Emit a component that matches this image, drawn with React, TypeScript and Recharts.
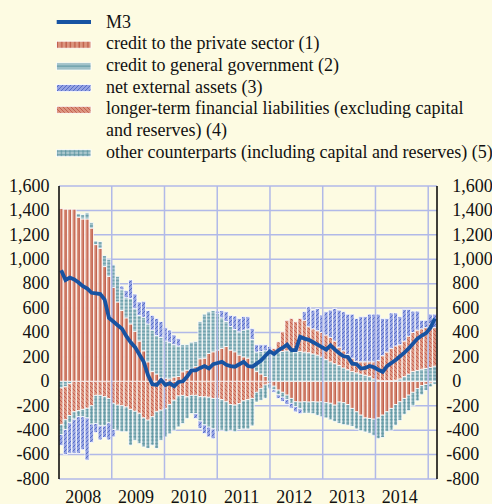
import React from 'react';
import { ComposedChart, Bar, Line, XAxis, YAxis, CartesianGrid, ReferenceLine } from 'recharts';

// ---------- data (annual flows, EUR billions) ----------
const years = ['2008', '2009', '2010', '2011', '2012', '2013', '2014', '2015'];
const monthsInYear = [12, 12, 12, 12, 12, 12, 12, 3];
const months: string[] = [];
years.forEach((y, k) => {
  for (let m = 1; m <= monthsInYear[k]; m++) months.push(`${y}-${String(m).padStart(2, '0')}`);
});

const m3 = [
  910, 830, 850, 835, 810, 780, 760, 725, 720, 715, 670, 520,
  490, 460, 430, 370, 320, 280, 220, 160, 50, -25, -30, 10,
  -30, -15, -40, -5, 0, 40, 90, 90, 110, 125, 105, 140,
  150, 160, 135, 125, 120, 140, 160, 125, 120, 145, 170, 210,
  245, 225, 255, 275, 300, 255, 255, 365, 350, 340, 320, 300,
  280, 260, 295, 260, 230, 205, 200, 145, 140, 105, 110, 125,
  115, 95, 78, 125, 150, 175, 205, 235, 270, 310, 350, 375,
  395, 440, 515,
];
const privateCredit = [
  1415, 1410, 1410, 1410, 1345, 1330, 1330, 1255, 1120, 1090, 940, 860,
  770, 650, 580, 520, 470, 410, 330, 250, 160, 80, 60, 30,
  25, 20, 35, 40, 78, 92, 105, 120, 185, 190, 228, 242,
  256, 270, 285, 256, 242, 215, 200, 190, 130, 80, 60, 40,
  -20, -40, -72, -90, -113, -140, -168, -170, -168, -170, -168, -170,
  -168, -175, -180, -195, -170, -175, -190, -222, -250, -277, -300, -304,
  -310, -300, -277, -250, -222, -190, -168, -140, -113, -90, -60, -35,
  -25, -15, -5,
];
const governmentCredit = [
  -55, -45, -20, 0, 30, 35, 50, 45, 30, 55, 90, 140,
  185, 210, 170, 165, 210, 185, 210, 275, 310, 340, 315, 330,
  305, 300, 265, 250, 222, 208, 215, 205, 305, 360, 342, 338,
  299, 250, 205, 194, 183, 190, 220, 239, 213, 160, 185, 210,
  230, 235, 240, 245, 250, 245, 240, 245, 240, 235, 225, 215,
  200, 180, 160, 145, 130, 110, 95, 80, 70, 60, 50, 40,
  20, 10, 5, 5, 5, 10, 20, 40, 60, 80, 90, 100,
  105, 115, 125,
];
const longerTermLiabilities = [
  -300, -270, -260, -250, -240, -230, -220, -200, -115, -115, -125, -140,
  -180, -195, -200, -210, -230, -245, -262, -300, -318, -290, -250, -236,
  -225, -190, -155, -120, -115, -127, -115, -115, -125, -127, -130, -140,
  -140, -150, -168, -190, -195, -182, -160, -150, -140, -90, -60, -30,
  15, 35, 84, 161, 250, 271, 248, 271, 260, 212, 205, 200,
  200, 200, 200, 185, 150, 140, 125, 110, 95, 100, 110, 120,
  140, 160, 205, 235, 265, 280, 280, 290, 310, 320, 330, 330,
  335, 355, 315,
];
const otherCounterparts = [
  -80, -80, -60, -60, -50, -60, -80, -150, -230, -250, -240, -200,
  -215, -205, -213, -203, -293, -238, -248, -237, -232, -233, -300, -247,
  -230, -240, -245, -253, -231, -178, -149, -150, -200, -230, -245, -250,
  -273, -250, -245, -210, -218, -213, -230, -240, -225, -80, -95, -110,
  -40, -30, -38, -40, -37, -40, -40, -55, -92, -90, -97, -110,
  -122, -125, -135, -135, -175, -180, -170, -148, -140, -128, -115, -121,
  -135, -170, -183, -160, -178, -170, -152, -130, -127, -110, -100, -75,
  -50, -30, -20,
];
const netExternalAssets = [
  -90, -205, -250, -280, -300, -270, -345, -150, -75, -115, -95, -140,
  -60, 0, 30, 60, 150, 120, 110, 130, 110, 120, 140, 130,
  110, 100, 80, 60, 0, 0, 0, -40, -61, -71, -80, -80,
  20, 60, 80, 90, 110, 110, 110, 100, 90, 60, 55, 50,
  40, -20, -30, -35, -40, -40, -42, -40, 70, 164, 153, 182,
  143, 190, 223, 267, 303, 320, 330, 360, 350, 370, 370, 390,
  390, 380, 305, 275, 290, 270, 230, 260, 220, 175, 155, 70,
  60, 80, 110,
];

const yTicks = [-800, -600, -400, -200, 0, 200, 400, 600, 800, 1000, 1200, 1400, 1600];
const yearLabels = ['2008', '2009', '2010', '2011', '2012', '2013', '2014'];
const yearStarts = [0, 12, 24, 36, 48, 60, 72, 84, 87];

const data = months.map((m, i) => ({
  m,
  priv: privateCredit[i],
  gov: governmentCredit[i],
  ltfl: longerTermLiabilities[i],
  other: otherCounterparts[i],
  nea: netExternalAssets[i],
  m3: m3[i],
}));

// ---------- styling ----------
const FONT = "'Liberation Serif', 'Times New Roman', serif";
const FS = 18;
const INK = '#111';
const BG = '#fdfbe2';
const GRID = '#b1b9e8';
const M3_COLOR = '#1753a2';
const PLOT_LEFT = 59;
const PLOT_W = 378;
const BAND = PLOT_W / months.length;
const TS = 6;

const labelTicks = yearLabels.map((_, k) => yearStarts[k] + 6);
const labelAt: Record<number, string> = {};
yearLabels.forEach((l, k) => (labelAt[labelTicks[k]] = l));

const fmt = (v: number) => v.toLocaleString('en-US');

const LeftTick = (props: any) => {
  const { x, y, payload } = props;
  return (
    <text x={x - 3.5} y={y + 5.8} textAnchor="end" fontFamily={FONT} fontSize={FS} fill={INK}>
      {fmt(payload.value)}
    </text>
  );
};

const RightTick = (props: any) => {
  const { x, y, payload } = props;
  const v = payload.value;
  return (
    <text x={x + 9.3 - (v < 0 ? 6 : 0)} y={y + 5.8} textAnchor="start" fontFamily={FONT} fontSize={FS} fill={INK}>
      {fmt(v)}
    </text>
  );
};

const Patterns = () => (
  <svg width={0} height={0} style={{ position: 'absolute' }}>
    <defs>
      <pattern id="pPriv" patternUnits="userSpaceOnUse" x={PLOT_LEFT} y={0} width={BAND} height={6}>
        <rect width={BAND} height={6} fill="#db957f" />
        <rect x={2.3} width={0.9} height={6} fill="#b2402f" />
      </pattern>
      <pattern id="pGov" patternUnits="userSpaceOnUse" x={PLOT_LEFT} y={0} width={BAND} height={3.4}>
        <rect width={BAND} height={3.4} fill="#a3c3ca" />
        <rect y={1.2} width={BAND} height={0.9} fill="#4a8a97" />
      </pattern>
      <pattern id="pNea" patternUnits="userSpaceOnUse" width={4} height={4}>
        <rect width={4} height={4} fill="#95a3e2" />
        <path d="M-1,1 L1,-1 M0,4 L4,0 M3,5 L5,3" stroke="#4760c2" strokeWidth={0.8} />
      </pattern>
      <pattern id="pLtfl" patternUnits="userSpaceOnUse" width={4} height={4}>
        <rect width={4} height={4} fill="#db957f" />
        <path d="M-1,3 L1,5 M0,0 L4,4 M3,-1 L5,1" stroke="#bf5246" strokeWidth={0.8} />
      </pattern>
      <pattern id="pOther" patternUnits="userSpaceOnUse" x={PLOT_LEFT} y={0} width={BAND} height={3.4}>
        <rect width={BAND} height={3.4} fill="#adc9cf" />
        <rect y={1.2} width={BAND} height={0.8} fill="#508d9a" />
        <rect x={2} width={0.8} height={3.4} fill="#508d9a" />
      </pattern>
    </defs>
  </svg>
);

const legendRows: { lines: string[]; fill?: string }[] = [
  { lines: ['M3'] },
  { lines: ['credit to the private sector (1)'], fill: 'url(#pPriv)' },
  { lines: ['credit to general government (2)'], fill: 'url(#pGov)' },
  { lines: ['net external assets (3)'], fill: 'url(#pNea)' },
  { lines: ['longer-term financial liabilities (excluding capital', 'and reserves) (4)'], fill: 'url(#pLtfl)' },
  { lines: ['other counterparts (including capital and reserves) (5)'], fill: 'url(#pOther)' },
];

const Legend = () => {
  let row = 0;
  const items: React.ReactNode[] = [];
  legendRows.forEach((r, k) => {
    const base = 27.5 + 21.7 * row;
    if (r.fill) {
      items.push(
        <rect key={`s${k}`} x={56.5} y={base - 8} width={34.5} height={7} fill={r.fill} stroke="#fff" strokeWidth={0.8} />
      );
    } else {
      items.push(<rect key={`s${k}`} x={56.7} y={base - 7.5} width={34.3} height={4} fill={M3_COLOR} />);
    }
    r.lines.forEach((t, j) => {
      items.push(
        <text key={`t${k}-${j}`} x={106} y={base + 21.7 * j} fontFamily={FONT} fontSize={FS} fill={INK}>
          {t}
        </text>
      );
    });
    row += r.lines.length;
  });
  return (
    <svg width={492} height={170} style={{ position: 'absolute', left: 0, top: 0 }}>
      {items}
    </svg>
  );
};

const barStyle = { stroke: '#fff', strokeWidth: 0.8 };

export default function App() {
  return (
    <div style={{ position: 'absolute', left: 0, top: 0, width: 492, height: 504, background: BG, overflow: 'hidden' }}>
      <Patterns />
      <div style={{ position: 'absolute', left: 0, top: 0 }}>
        <ComposedChart
          width={492}
          height={504}
          data={data}
          margin={{ top: 186, right: 0, bottom: 0, left: 0 }}
          stackOffset="sign"
          barCategoryGap={0}
          barGap={0}
        >
          <CartesianGrid vertical={false} stroke={GRID} strokeWidth={1.5} />
          {/* year boundary tick marks */}
          <XAxis
            xAxisId="yrTicks"
            type="number"
            domain={[0, months.length]}
            ticks={yearStarts}
            interval={0}
            height={0}
            allowDataOverflow
            axisLine={{ stroke: '#000', strokeWidth: 1.5 }}
            tickLine={{ stroke: '#000', strokeWidth: 1.5 }}
            tickSize={TS}
            tick={false}
          />
          {/* year labels */}
          <XAxis
            xAxisId="yr"
            type="number"
            domain={[0, months.length]}
            ticks={labelTicks}
            interval={0}
            height={25}
            allowDataOverflow
            axisLine={false}
            tickLine={false}
            tickSize={TS}
            tickMargin={5}
            tickFormatter={(v: number) => labelAt[v] ?? ''}
            tick={{ fontFamily: FONT, fontSize: FS, fill: INK, dx: -2 }}
          />
          <XAxis dataKey="m" hide height={0} />
          <YAxis
            domain={[-800, 1600]}
            ticks={yTicks}
            interval={0}
            width={PLOT_LEFT}
            allowDataOverflow
            axisLine={{ stroke: '#000', strokeWidth: 1.5 }}
            tickLine={false}
            tickSize={TS}
            tickMargin={0}
            tick={<LeftTick />}
          />
          <YAxis
            yAxisId="r"
            orientation="right"
            domain={[-800, 1600]}
            ticks={yTicks}
            interval={0}
            width={55}
            allowDataOverflow
            axisLine={{ stroke: '#000', strokeWidth: 1.5 }}
            tickLine={false}
            tickSize={TS}
            tickMargin={0}
            tick={<RightTick />}
          />
          {yearStarts.slice(1, -1).map((b) => (
            <ReferenceLine key={b} xAxisId="yrTicks" x={b} stroke={GRID} strokeWidth={1.5} />
          ))}
          <Bar dataKey="priv" stackId="s" fill="url(#pPriv)" {...barStyle} isAnimationActive={false} />
          <Bar dataKey="gov" stackId="s" fill="url(#pGov)" {...barStyle} isAnimationActive={false} />
          <Bar dataKey="ltfl" stackId="s" fill="url(#pLtfl)" {...barStyle} isAnimationActive={false} />
          <Bar dataKey="other" stackId="s" fill="url(#pOther)" {...barStyle} isAnimationActive={false} />
          <Bar dataKey="nea" stackId="s" fill="url(#pNea)" {...barStyle} isAnimationActive={false} />
          <Line
            dataKey="m3"
            type="linear"
            stroke={M3_COLOR}
            strokeWidth={3.8}
            dot={false}
            activeDot={false}
            isAnimationActive={false}
          />
        </ComposedChart>
      </div>
      <Legend />
    </div>
  );
}
